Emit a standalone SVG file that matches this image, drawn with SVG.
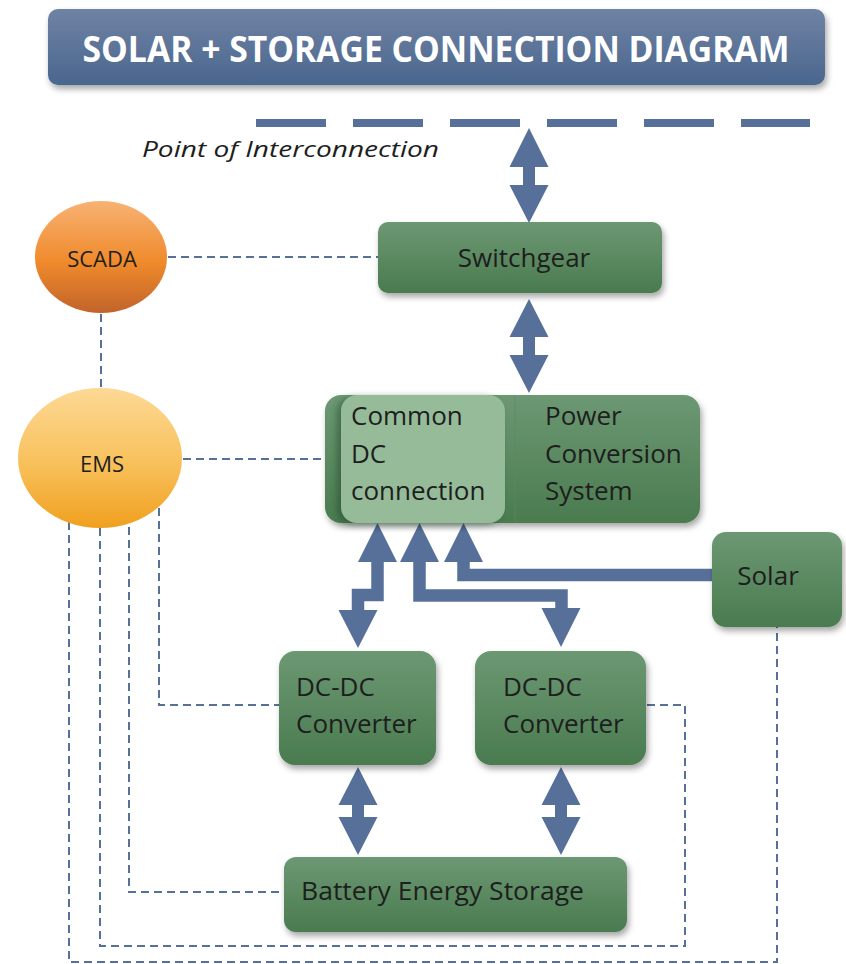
<svg xmlns="http://www.w3.org/2000/svg" width="846" height="964" viewBox="0 0 846 964">
  <defs>
    <linearGradient id="gTitle" x1="0" y1="0" x2="0" y2="1">
      <stop offset="0" stop-color="#6f83a4"/>
      <stop offset="1" stop-color="#4a668e"/>
    </linearGradient>
    <linearGradient id="gGreen" x1="0" y1="0" x2="0" y2="1">
      <stop offset="0" stop-color="#6c9873"/>
      <stop offset="1" stop-color="#4a7b4f"/>
    </linearGradient>
    <linearGradient id="gScada" x1="0" y1="0" x2="0" y2="1">
      <stop offset="0" stop-color="#f8b273"/>
      <stop offset="0.55" stop-color="#ef8a2b"/>
      <stop offset="1" stop-color="#c2632a"/>
    </linearGradient>
    <linearGradient id="gEms" x1="0" y1="0" x2="0" y2="1">
      <stop offset="0" stop-color="#fdd995"/>
      <stop offset="0.55" stop-color="#f8c05a"/>
      <stop offset="1" stop-color="#f0a01e"/>
    </linearGradient>
    <filter id="shadow" x="-10%" y="-10%" width="125%" height="135%">
      <feDropShadow dx="2" dy="4" stdDeviation="3" flood-color="#000" flood-opacity="0.35"/>
    </filter>
    <filter id="innerShadow" x="-15%" y="-10%" width="130%" height="125%">
      <feDropShadow dx="-4" dy="2" stdDeviation="3" flood-color="#1f3d22" flood-opacity="0.45"/>
    </filter>
  </defs>
  <style>
    .box { fill: url(#gGreen); filter: url(#shadow); }
    .lbl { font-family: "Open Sans", "Liberation Sans", sans-serif; font-size: 26px; fill: #1e1e1e; }
    .oval { font-family: "Open Sans", "Liberation Sans", sans-serif; font-size: 22px; fill: #1e1e1e; text-anchor: middle; }
    .pipe { fill: #56709a; }
    .bus { fill: none; stroke: #56709a; stroke-width: 12.5; stroke-linejoin: miter; }
    .ctl { fill: none; stroke: #56709a; stroke-width: 2; stroke-dasharray: 8 5; }
  </style>

  <!-- Title banner -->
  <g id="title">
    <rect x="48" y="9" width="777" height="76" rx="10" fill="url(#gTitle)" filter="url(#shadow)"/>
    <text x="436" y="62" text-anchor="middle" textLength="707" lengthAdjust="spacingAndGlyphs" font-family="'Open Sans', 'Liberation Sans', sans-serif" font-weight="bold" font-size="36" fill="#ffffff">SOLAR + STORAGE CONNECTION DIAGRAM</text>
  </g>

  <!-- Point of interconnection -->
  <g id="poi">
    <line x1="256" y1="123" x2="810" y2="123" stroke="#56709a" stroke-width="8" stroke-dasharray="70 27"/>
    <text x="142" y="157" textLength="297" lengthAdjust="spacingAndGlyphs" font-family="'Open Sans', 'Liberation Sans', sans-serif" font-style="italic" font-size="22" fill="#1e1e1e">Point of Interconnection</text>
  </g>

  <!-- Connectors -->
  <g id="connectors">
    <!-- control / communication links -->
    <path class="ctl" d="M168,257 H378"/>
    <path class="ctl" d="M101,314 V388"/>
    <path class="ctl" d="M183,459 H325"/>
    <path class="ctl" d="M159,508 V705 H279"/>
    <path class="ctl" d="M129,527 V892 H284"/>
    <path class="ctl" d="M100,528 V946 H685 V705 H646"/>
    <path class="ctl" d="M69,522 V962 H777 V627"/>

    <!-- straight double-headed power arrows -->
    <path class="pipe" d="M529,128 L548.5,167 L535,167 L535,185 L548.5,185 L529,223 L509.5,185 L523,185 L523,167 L509.5,167 Z"/>
    <path class="pipe" d="M529,299 L548.5,337 L535,337 L535,355 L548.5,355 L529,393 L509.5,355 L523,355 L523,337 L509.5,337 Z"/>
    <path class="pipe" d="M358,767 L377.5,805 L364,805 L364,817 L377.5,817 L358,855 L338.5,817 L352,817 L352,805 L338.5,805 Z"/>
    <path class="pipe" d="M561,767 L580.5,805 L567,805 L567,817 L580.5,817 L561,855 L541.5,817 L555,817 L555,805 L541.5,805 Z"/>

    <!-- DC bus to first converter -->
    <path class="bus" d="M377.5,561 V595 H358 V612"/>
    <path class="pipe" d="M377.5,523 L397,562 L358,562 Z"/>
    <path class="pipe" d="M358,648 L377.5,610 L338.5,610 Z"/>

    <!-- DC bus to second converter -->
    <path class="bus" d="M419.5,561 V595.5 H561.5 V609"/>
    <path class="pipe" d="M419.5,523 L439,562 L400,562 Z"/>
    <path class="pipe" d="M561,647 L580.5,608 L541.5,608 Z"/>

    <!-- solar feed into DC bus -->
    <path class="bus" d="M463.5,561 V575 H712"/>
    <path class="pipe" d="M463.5,523 L483,562 L444,562 Z"/>
  </g>

  <!-- Nodes -->
  <g id="scada">
    <ellipse cx="101" cy="257" rx="66" ry="56" fill="url(#gScada)"/>
    <text class="oval" x="102" y="267">SCADA</text>
  </g>

  <g id="ems">
    <ellipse cx="100" cy="458" rx="82" ry="70" fill="url(#gEms)"/>
    <text class="oval" x="102" y="472">EMS</text>
  </g>

  <g id="switchgear">
    <rect class="box" x="378" y="222" width="284" height="71" rx="10"/>
    <text class="lbl" x="524" y="267" text-anchor="middle">Switchgear</text>
  </g>

  <g id="pcs">
    <rect class="box" x="325" y="395" width="375" height="128" rx="16"/>
    <line x1="515" y1="396" x2="515" y2="522" stroke="#5a8a60" stroke-width="1" opacity="0.7"/>
    <text class="lbl" x="545" y="425">Power</text>
    <text class="lbl" x="545" y="463">Conversion</text>
    <text class="lbl" x="545" y="500">System</text>
  </g>

  <g id="common-dc">
    <rect x="341" y="395" width="164" height="128" rx="16" fill="#95bb99" filter="url(#innerShadow)"/>
    <text class="lbl" x="351" y="425">Common</text>
    <text class="lbl" x="351" y="463">DC</text>
    <text class="lbl" x="351" y="500">connection</text>
  </g>

  <g id="solar">
    <rect class="box" x="712" y="532" width="130" height="95" rx="14"/>
    <text class="lbl" x="768" y="585" text-anchor="middle">Solar</text>
  </g>

  <g id="dcdc-1">
    <rect class="box" x="279" y="651" width="157" height="114" rx="16"/>
    <text class="lbl" x="296" y="696">DC-DC</text>
    <text class="lbl" x="296" y="733">Converter</text>
  </g>

  <g id="dcdc-2">
    <rect class="box" x="475" y="651" width="171" height="114" rx="16"/>
    <text class="lbl" x="503" y="696">DC-DC</text>
    <text class="lbl" x="503" y="733">Converter</text>
  </g>

  <g id="battery">
    <rect class="box" x="284" y="857" width="343" height="75" rx="12"/>
    <text class="lbl" x="301" y="900" textLength="283" lengthAdjust="spacingAndGlyphs">Battery Energy Storage</text>
  </g>
</svg>
